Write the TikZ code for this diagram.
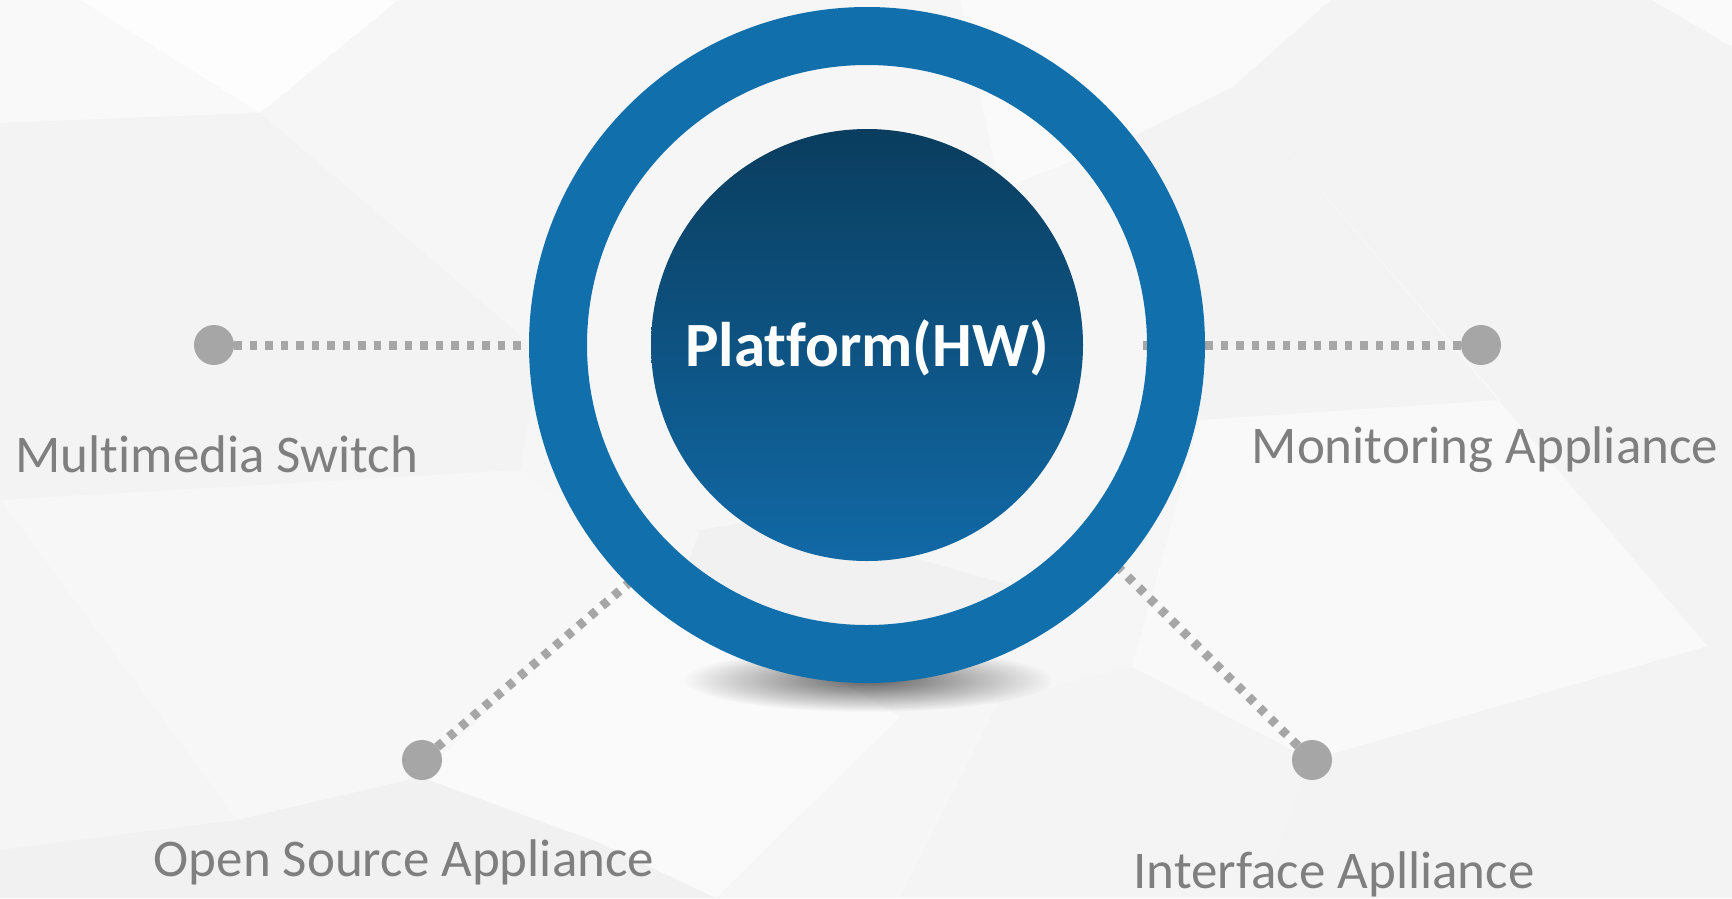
\documentclass[tikz,border=0pt]{standalone}
\usepackage{fontspec}
\setmainfont{Carlito}[Ligatures={NoCommon}]
\usetikzlibrary{fadings}
\definecolor{bgbase}{HTML}{F6F6F6}
\definecolor{gA}{HTML}{F9F9F9}
\definecolor{gB}{HTML}{FDFDFD}
\definecolor{gC}{HTML}{F3F3F4}
\definecolor{gD}{HTML}{F7F7F7}
\definecolor{gE}{HTML}{F5F5F5}
\definecolor{gF}{HTML}{F1F1F2}
\definecolor{gG}{HTML}{FAFAFA}
\definecolor{gH}{HTML}{F1F1F1}
\definecolor{gI}{HTML}{F3F3F4}
\definecolor{gJ}{HTML}{F4F4F5}
\definecolor{ringblue}{HTML}{1170AC}
\definecolor{coretop}{HTML}{0A3D5E}
\definecolor{coremid}{HTML}{0C4870}
\definecolor{corebot}{HTML}{1169A6}
\definecolor{dotgray}{HTML}{A6A6A6}
\definecolor{txtgray}{HTML}{7F7F7F}
\tikzfading[name=shadowfade, inner color=transparent!40, outer color=transparent!100]
\begin{document}
\begin{tikzpicture}[x=1pt, y=-1pt,
  poly/.style={fill=#1, draw=none},
  dotline/.style={draw=dotgray, line width=9pt, dash pattern=on 7.5pt off 8pt},
  dotnode/.style={circle, fill=dotgray, minimum size=40pt, inner sep=0pt, outer sep=0pt},
  lbl/.style={text=txtgray, font=\fontsize{53}{60}\selectfont, anchor=base, inner sep=0pt},
  ringstyle/.style={circle, draw=ringblue, line width=58pt, minimum size=618pt, inner sep=0pt, outer sep=0pt},
  corestyle/.style={circle, minimum size=432pt, inner sep=0pt, top color=coretop, middle color=coremid, bottom color=corebot},
  titlestyle/.style={text=white, font=\bfseries\fontsize{63}{70}\selectfont, anchor=base, inner sep=0pt}
]
\useasboundingbox (0,0) rectangle (1732,898);
% background low-poly
\fill[bgbase] (0,0) rectangle (1732,898);
\fill[poly=gA] (0,0) -- (80,0) -- (260,113) -- (0,123) -- cycle;
\fill[poly=gB] (80,0) -- (398,0) -- (260,113) -- cycle;
\fill[poly=gC] (0,123) -- (260,113) -- (540,352) -- (520,470) -- (0,500) -- cycle;
\fill[poly=gD] (0,500) -- (520,470) -- (640,560) -- (421,777) -- (237,820) -- cycle;
\fill[poly=gE] (0,500) -- (237,820) -- (0,850) -- cycle;
\fill[poly=gF] (0,850) -- (237,820) -- (421,777) -- (600,843) -- (720,898) -- (0,898) -- cycle;
\fill[poly=gG] (600,843) -- (421,777) -- (640,560) -- (900,717) -- (716,898) -- cycle;
\begin{scope}
  \clip (867,345) circle [radius=300pt];
  \fill[poly=gH] (700,530) -- (770,518) -- (1010,585) -- (1010,700) -- (640,700) -- cycle;
\end{scope}
\fill[poly=gG] (960,0) -- (1331,0) -- (1233,87) -- (1132,137) -- (1000,190) -- cycle;
\fill[poly=gI] (1331,0) -- (1652,0) -- (1732,47) -- (1732,646) -- (1707,646) -- (1233,87) -- cycle;
\fill[poly=gG] (1652,0) -- (1732,0) -- (1732,47) -- cycle;
\fill[poly=gC] (1132,137) -- (1233,87) -- (1500,400) -- (1200,420) -- cycle;
\fill[poly=gA] (1233,87) -- (1707,646) -- (1311,760) -- (1132,667) -- (1200,420) -- (1500,400) -- cycle;
\fill[poly=gC] (1311,760) -- (1702,648) -- (1732,637) -- (1732,898) -- (1258,898) -- cycle;
\fill[poly=gJ] (1132,667) -- (1311,760) -- (1258,898) -- (900,898) -- (1000,700) -- cycle;
% shadow under the ring
\fill[black, path fading=shadowfade] (868,680) ellipse [x radius=185pt, y radius=32pt];
% centre
\coordinate (c) at (867,345);
% free ends of the connectors
\coordinate (e1) at (540,345);
\coordinate (e2) at (1143,345);
\coordinate (e3) at (637,576);
\coordinate (e4) at (1110,559);
% dots
\node[dotnode] (d1) at (214,345) {};
\node[dotnode] (d2) at (1481,345) {};
\node[dotnode] (d3) at (422,760) {};
\node[dotnode] (d4) at (1312,760) {};
% dotted connectors
\draw[dotline] (d1) -- (e1);
\draw[dotline] (e2) -- (d2);
\draw[dotline] (d3) -- (e3);
\draw[dotline] (d4) -- (e4);
% ring and core
\node[ringstyle] (ring) at (c) {};
\node[corestyle] (core) at (c) {};
\node[titlestyle] (hw) at (867,366) {Platform(HW)};
% labels
\node[lbl] (l1) at (217,472) {Multimedia Switch};
\node[lbl] (l2) at (1485,463) {Monitoring Appliance};
\node[lbl] (l3) at (404,876) {Open Source Appliance};
\node[lbl] (l4) at (1334,888) {Interface Aplliance};
\end{tikzpicture}
\end{document}
